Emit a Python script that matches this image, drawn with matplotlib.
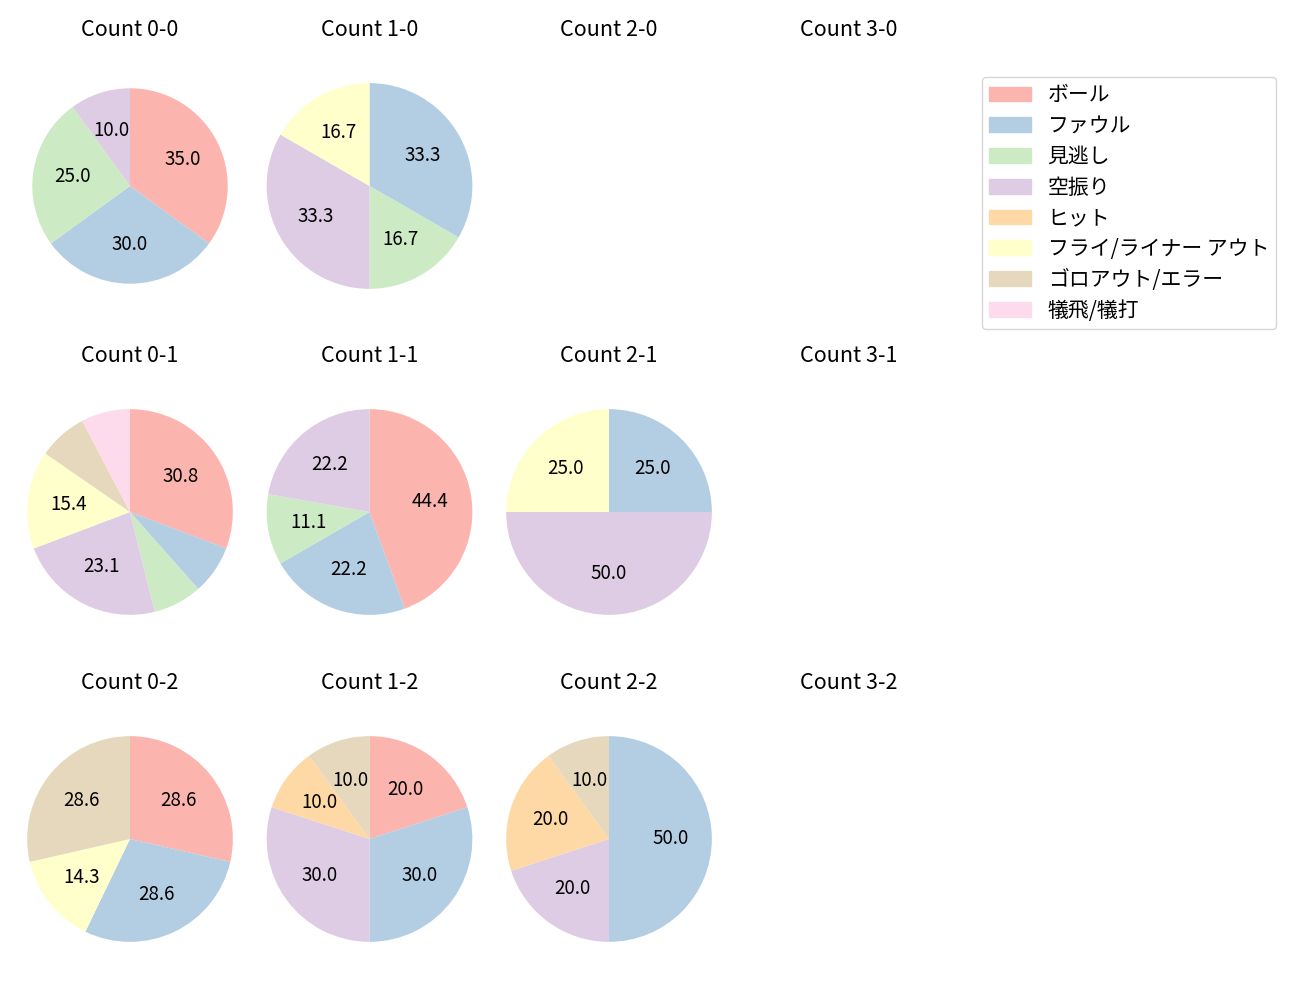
import matplotlib.pyplot as plt
import matplotlib.patches as mpatches
import numpy as np

plt.rcParams['font.family'] = ['Noto Sans CJK JP', 'DejaVu Sans']

# 結果カテゴリ
categories = ['ボール', 'ファウル', '見逃し', '空振り', 'ヒット',
              'フライ/ライナー アウト', 'ゴロアウト/エラー', '犠飛/犠打']
colors = plt.get_cmap('Pastel1').colors[:8]

# カウント別の件数 (ボール, ファウル, 見逃し, 空振り, ヒット, フライ, ゴロ, 犠飛)
count_0_0 = [7, 6, 5, 2, 0, 0, 0, 0]
count_1_0 = [0, 2, 1, 2, 0, 1, 0, 0]
count_2_0 = [0, 0, 0, 0, 0, 0, 0, 0]
count_3_0 = [0, 0, 0, 0, 0, 0, 0, 0]
count_0_1 = [4, 1, 1, 3, 0, 2, 1, 1]
count_1_1 = [4, 2, 1, 2, 0, 0, 0, 0]
count_2_1 = [0, 1, 0, 2, 0, 1, 0, 0]
count_3_1 = [0, 0, 0, 0, 0, 0, 0, 0]
count_0_2 = [2, 2, 0, 0, 0, 1, 2, 0]
count_1_2 = [2, 3, 0, 3, 1, 0, 1, 0]
count_2_2 = [0, 5, 0, 2, 2, 0, 1, 0]
count_3_2 = [0, 0, 0, 0, 0, 0, 0, 0]

grid = [
    [('0-0', count_0_0), ('1-0', count_1_0), ('2-0', count_2_0), ('3-0', count_3_0)],
    [('0-1', count_0_1), ('1-1', count_1_1), ('2-1', count_2_1), ('3-1', count_3_1)],
    [('0-2', count_0_2), ('1-2', count_1_2), ('2-2', count_2_2), ('3-2', count_3_2)],
]

W, H = 1300, 1000
col_x = [130, 369.5, 609, 849]
row_y = [186, 512, 839]
side = 288
lim = 1.4


def pct_label(p):
    return f'{p:.1f}' if p >= 9 else ''


def main():
    fig = plt.figure(figsize=(13, 10), dpi=100)
    for r, row in enumerate(grid):
        for c, (name, vals) in enumerate(row):
            cx, cy = col_x[c], row_y[r]
            ax = fig.add_axes([(cx - side / 2) / W, 1 - (cy + side / 2) / H, side / W, side / H])
            vals = np.array(vals, dtype=float)
            if vals.sum() > 0:
                radius = 0.95 if name == '0-0' else 1.0
                ax.pie(vals, colors=colors, startangle=90, counterclock=False,
                       radius=radius, autopct=pct_label, pctdistance=0.6,
                       textprops={'fontsize': 13.5})
            ax.set_xlim(-lim, lim)
            ax.set_ylim(-lim, lim)
            ax.set_aspect('equal')
            ax.axis('off')
            ax.set_title(f'Count {name}', fontsize=15.5, pad=4)

    handles = [mpatches.Patch(color=col, label=lab) for col, lab in zip(colors, categories)]
    fig.legend(handles=handles, loc='upper left', bbox_to_anchor=(982 / W, 1 - 77 / H),
               fontsize=15, borderaxespad=0, labelspacing=0.42, borderpad=0.35)
    fig.savefig('out.png')


if __name__ == '__main__':
    main()
